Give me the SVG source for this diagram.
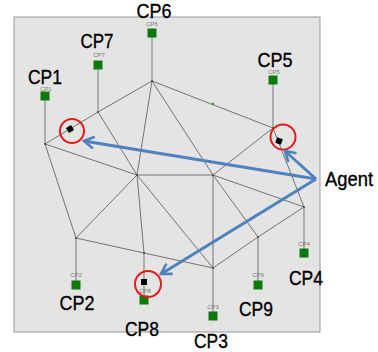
<svg xmlns="http://www.w3.org/2000/svg" width="378" height="352" viewBox="0 0 378 352">
  <style>
    .panel { fill: #e4e4e4; stroke: #9a9a9a; stroke-width: 1; }
    .edge { stroke: #555; stroke-width: 0.8; fill: none; }
    .drop { stroke: #888; stroke-width: 1.2; fill: none; }
    .junction { fill: #2f5f2f; }
    .cp { fill: #0b7a0b; }
    .tag { font-family: "Liberation Sans", Arial, sans-serif; font-size: 6px; fill: #777; text-anchor: middle; }
    .big { font-family: "Liberation Sans", Arial, sans-serif; font-size: 21px; fill: #000; stroke: #000; stroke-width: 0.35; text-anchor: middle; }
    .agentdot { fill: #000; }
    .ring { fill: none; stroke: #e21b1b; stroke-width: 2; }
    .ptr { stroke: #4f81bd; stroke-width: 3; fill: none; marker-end: url(#open); }
  </style>
  <defs>
    <marker id="open" markerUnits="userSpaceOnUse" markerWidth="14" markerHeight="14" viewBox="-12 -7 14 14" refX="0" refY="0" orient="auto">
      <path d="M-10,-6 L0,0 L-10,6" fill="none" stroke="#4f81bd" stroke-width="2.6" stroke-linejoin="miter"/>
    </marker>
  </defs>

  <rect class="panel" x="14" y="17" width="306" height="315"/>

  <!-- network links -->
  <g id="connectors">
    <line class="edge" x1="45" y1="144" x2="98" y2="112"/>
    <line class="edge" x1="98" y1="112" x2="152" y2="81"/>
    <line class="edge" x1="45" y1="144" x2="137" y2="175"/>
    <line class="edge" x1="45" y1="144" x2="76" y2="238"/>
    <line class="edge" x1="98" y1="112" x2="137" y2="175"/>
    <line class="edge" x1="152" y1="81" x2="137" y2="175"/>
    <line class="edge" x1="152" y1="81" x2="273" y2="128"/>
    <line class="edge" x1="152" y1="81" x2="213" y2="175"/>
    <line class="edge" x1="213" y1="175" x2="258" y2="237"/>
    <line class="edge" x1="273" y1="128" x2="213" y2="175"/>
    <line class="edge" x1="273" y1="128" x2="304" y2="207"/>
    <line class="edge" x1="137" y1="175" x2="213" y2="175"/>
    <line class="edge" x1="213" y1="175" x2="304" y2="207"/>
    <line class="edge" x1="213" y1="175" x2="213" y2="268"/>
    <line class="edge" x1="137" y1="175" x2="76" y2="238"/>
    <line class="edge" x1="137" y1="175" x2="144" y2="253"/>
    <line class="edge" x1="137" y1="175" x2="213" y2="268"/>
    <line class="edge" x1="76" y1="238" x2="144" y2="253"/>
    <line class="edge" x1="144" y1="253" x2="213" y2="268"/>
    <line class="edge" x1="213" y1="268" x2="258" y2="237"/>
    <line class="edge" x1="258" y1="237" x2="304" y2="207"/>
    <!-- charge point drops -->
    <line class="drop" x1="45" y1="96" x2="45" y2="144"/>
    <line class="drop" x1="98" y1="65" x2="98" y2="112"/>
    <line class="drop" x1="152" y1="33" x2="152" y2="81"/>
    <line class="drop" x1="273" y1="80" x2="273" y2="128"/>
    <line class="drop" x1="76" y1="285" x2="76" y2="238"/>
    <line class="drop" x1="144" y1="300" x2="144" y2="253"/>
    <line class="drop" x1="213" y1="316" x2="213" y2="268"/>
    <line class="drop" x1="258" y1="285" x2="258" y2="237"/>
    <line class="drop" x1="304" y1="253" x2="304" y2="207"/>
  </g>

  <!-- junctions -->
  <g id="junctions">
    <circle class="junction" cx="45" cy="144" r="1"/>
    <circle class="junction" cx="98" cy="112" r="1"/>
    <circle class="junction" cx="152" cy="81" r="1"/>
    <circle class="junction" cx="273" cy="128" r="1"/>
    <circle class="junction" cx="137" cy="175" r="1"/>
    <circle class="junction" cx="213" cy="175" r="1"/>
    <circle class="junction" cx="76" cy="238" r="1"/>
    <circle class="junction" cx="144" cy="253" r="1"/>
    <circle class="junction" cx="213" cy="268" r="1"/>
    <circle class="junction" cx="258" cy="237" r="1"/>
    <circle class="junction" cx="304" cy="207" r="1"/>
    <circle cx="213" cy="104" r="1.2" fill="#1a9a1a"/>
  </g>

  <!-- charge points -->
  <g id="cp1"><rect class="cp" x="40.5" y="91.5" width="9" height="9"/><text class="tag" x="46" y="90.5">CP1</text><text class="big" x="45" y="83.5" textLength="34" lengthAdjust="spacingAndGlyphs">CP1</text></g>
  <g id="cp7"><rect class="cp" x="93.5" y="60.5" width="9" height="9"/><text class="tag" x="99" y="57">CP7</text><text class="big" x="97" y="48" textLength="33" lengthAdjust="spacingAndGlyphs">CP7</text></g>
  <g id="cp6"><rect class="cp" x="147.5" y="28.5" width="9" height="9"/><text class="tag" x="152" y="26">CP6</text><text class="big" x="154" y="18" font-size="19" textLength="35" lengthAdjust="spacingAndGlyphs">CP6</text></g>
  <g id="cp5"><rect class="cp" x="268.5" y="75.5" width="9" height="9"/><text class="tag" x="274" y="74">CP5</text><text class="big" x="275" y="66.5" textLength="35" lengthAdjust="spacingAndGlyphs">CP5</text></g>
  <g id="cp2"><rect class="cp" x="71.5" y="280.5" width="9" height="9"/><text class="tag" x="76" y="277">CP2</text><text class="big" x="77" y="310" textLength="35" lengthAdjust="spacingAndGlyphs">CP2</text></g>
  <g id="cp8"><rect class="cp" x="139.5" y="295.5" width="9" height="9"/><text class="tag" x="145" y="293">CP8</text><text class="big" x="142" y="336" textLength="34" lengthAdjust="spacingAndGlyphs">CP8</text></g>
  <g id="cp3"><rect class="cp" x="208.5" y="311.5" width="9" height="9"/><text class="tag" x="213" y="309">CP3</text><text class="big" x="211" y="348" textLength="34" lengthAdjust="spacingAndGlyphs">CP3</text></g>
  <g id="cp9"><rect class="cp" x="253.5" y="280.5" width="9" height="9"/><text class="tag" x="258" y="277">CP9</text><text class="big" x="256" y="316" textLength="34" lengthAdjust="spacingAndGlyphs">CP9</text></g>
  <g id="cp4"><rect class="cp" x="299.5" y="248.5" width="9" height="9"/><text class="tag" x="304" y="246">CP4</text><text class="big" x="306" y="285" textLength="34" lengthAdjust="spacingAndGlyphs">CP4</text></g>

  <!-- agents on the network -->
  <g id="agent-a">
    <rect class="agentdot" x="-3" y="-3" width="6" height="6" transform="translate(70 129) rotate(-31)"/>
    <circle class="ring" cx="72" cy="131" r="12"/>
  </g>
  <g id="agent-b">
    <rect class="agentdot" x="-3" y="-3" width="6" height="6" transform="translate(279 141) rotate(20)"/>
    <circle class="ring" cx="283" cy="137" r="12.5"/>
  </g>
  <g id="agent-c">
    <rect class="agentdot" x="141" y="279" width="6" height="6"/>
    <circle class="ring" cx="148" cy="284" r="13"/>
  </g>

  <!-- agent label and pointers -->
  <g id="agent-label">
    <text x="325" y="186" font-family="Liberation Sans, Arial, sans-serif" font-size="20" fill="#000" stroke="#000" stroke-width="0.35" textLength="48" lengthAdjust="spacingAndGlyphs">Agent</text>
  </g>
  <g id="pointers">
    <line class="ptr" x1="316" y1="179" x2="84" y2="141"/>
    <line class="ptr" x1="316" y1="179" x2="285" y2="151"/>
    <line class="ptr" x1="316" y1="179" x2="161" y2="274"/>
  </g>
</svg>
